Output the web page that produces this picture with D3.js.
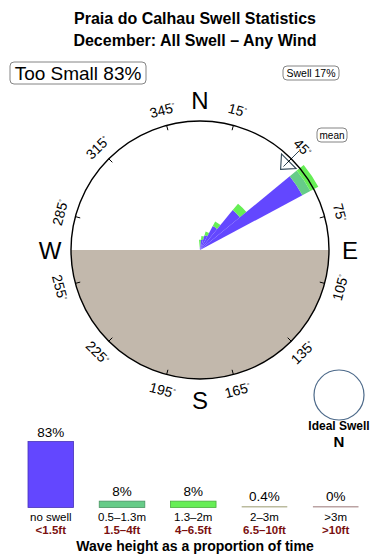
<!DOCTYPE html>
<html>
<head>
<meta charset="utf-8">
<script src="https://cdn.jsdelivr.net/npm/d3@7"></script>
<style>
  body { margin: 0; background: #fff; }
  text { font-family: "Liberation Sans", Arial, sans-serif; }
</style>
</head>
<body>
<script>
// rose: direction bins (deg from N) and stacked heights per class
var directions = [0, 11.25, 22.5, 33.75, 45, 56.25];
var binWidth = 11.25;
var blueVals  = [0.2, 0.8, 1.2, 2.1, 4.0, 9.0];
var tealVals  = [0.0, 0.0, 0.0, 0.0, 0.0, 0.7];
var greenVals = [0.6, 0.3, 0.3, 0.4, 0.65, 0.7];
var roseColors = ["#6347ff", "#66cc88", "#66ee55"];

var tickAngles = [15, 45, 75, 105, 135, 165, 195, 225, 255, 285, 315, 345];
var compass = [["N", 0], ["E", 90], ["S", 180], ["W", 270]];
var meanDir = 45;

// bottom bars
var barLabels = ["no swell", "0.5\u20131.3m", "1.3\u20132m", "2\u20133m", ">3m"];
var barFeet   = ["<1.5ft", "1.5\u20134ft", "4\u20136.5ft", "6.5\u201310ft", ">10ft"];
var barValues = [83, 8, 8, 0.4, 0];
var barText   = ["83%", "8%", "8%", "0.4%", "0%"];
var barColors = ["#6347ff", "#66cc88", "#66ee55", "#bbbb9e", "#bba3a3"];

var width = 390, height = 560;
var cx = 200, cy = 250, R = 129;

var svg = d3.select("body").append("svg")
    .attr("width", width)
    .attr("height", height);

// titles
svg.append("text").attr("x", 195).attr("y", 24).attr("text-anchor", "middle")
    .attr("font-size", 16).attr("font-weight", "bold")
    .text("Praia do Calhau Swell Statistics");
svg.append("text").attr("x", 195).attr("y", 46).attr("text-anchor", "middle")
    .attr("font-size", 16).attr("font-weight", "bold")
    .text("December: All Swell \u2013 Any Wind");

function labelBox(x0, y0, w, h, size, txt) {
    svg.append("rect").attr("x", x0).attr("y", y0).attr("width", w).attr("height", h)
        .attr("rx", 4).attr("fill", "#fff").attr("stroke", "#666").attr("stroke-width", 0.8);
    svg.append("text").attr("x", x0 + w / 2).attr("y", y0 + h / 2)
        .attr("dy", "0.36em").attr("text-anchor", "middle")
        .attr("font-size", size).text(txt);
}
labelBox(10, 62, 136, 22, 19, "Too Small 83%");
labelBox(283, 66, 56, 14, 10.5, "Swell 17%");
labelBox(317, 128, 30, 14, 10, "mean");

var rose = svg.append("g").attr("transform", "translate(" + cx + "," + cy + ")");
var rad = Math.PI / 180;
var rScale = d3.scaleLinear().domain([0, 10]).range([0, R]);

rose.append("circle").attr("r", R).attr("fill", "#fff");
rose.append("path")
    .attr("d", d3.arc()({ innerRadius: 0, outerRadius: R, startAngle: 90 * rad, endAngle: 270 * rad }))
    .attr("fill", "#c2b8ac");

// mean arrow (drawn under the wedges)
var mx = function(r, a) { return r * Math.sin((meanDir + a) * rad); };
var my = function(r, a) { return -r * Math.cos((meanDir + a) * rad); };
var arrowPts = [[mx(114, 0), my(114, 0)], [mx(126, -4.7), my(126, -4.7)], [mx(126, 4.7), my(126, 4.7)]];
rose.append("path")
    .attr("d", "M" + arrowPts.join("L") + "Z")
    .attr("fill", "#fff").attr("stroke", "#2f4656").attr("stroke-width", 1.1);
rose.append("line")
    .attr("x1", mx(118, 0)).attr("y1", my(118, 0))
    .attr("x2", mx(140, 0)).attr("y2", my(140, 0))
    .attr("stroke", "#2f4656").attr("stroke-width", 1);

// stacked wedges
var stack = directions.map(function(d, i) {
    return [blueVals[i], tealVals[i], greenVals[i]];
});
var arc = d3.arc();
directions.forEach(function(dir, i) {
    var base = 0;
    stack[i].forEach(function(v, k) {
        if (v <= 0) return;
        rose.append("path")
            .attr("d", arc({
                innerRadius: rScale(base),
                outerRadius: rScale(base + v),
                startAngle: (dir - binWidth / 2) * rad,
                endAngle: (dir + binWidth / 2) * rad
            }))
            .attr("fill", roseColors[k]);
        base += v;
    });
});

rose.append("circle").attr("r", R).attr("fill", "none")
    .attr("stroke", "#000").attr("stroke-width", 1.4);

// ticks & degree labels
tickAngles.forEach(function(a) {
    var s = Math.sin(a * rad), c = Math.cos(a * rad);
    rose.append("line")
        .attr("x1", (R - 5) * s).attr("y1", -(R - 5) * c)
        .attr("x2", R * s).attr("y2", -R * c)
        .attr("stroke", "#000").attr("stroke-width", 1);
    var rot = a;
    if (rot > 90 && rot < 270) rot -= 180;
    if (rot >= 270) rot -= 360;
    var t = rose.append("text")
        .attr("transform", "translate(" + (145 * s) + "," + (-145 * c) + ") rotate(" + rot + ")")
        .attr("text-anchor", "middle").attr("dy", "0.36em")
        .attr("font-size", 14);
    t.append("tspan").text(a);
    t.append("tspan").attr("font-size", 7).attr("dy", "-0.6em").text("\u00b0");
});

compass.forEach(function(d) {
    var s = Math.sin(d[1] * rad), c = Math.cos(d[1] * rad);
    rose.append("text")
        .attr("x", 150 * s).attr("y", -150 * c)
        .attr("dy", "0.36em").attr("text-anchor", "middle")
        .attr("font-size", 24).text(d[0]);
});

// ideal swell
svg.append("circle").attr("cx", 339).attr("cy", 395).attr("r", 25)
    .attr("fill", "#fff").attr("stroke", "#4d6a8a").attr("stroke-width", 1.2);
svg.append("text").attr("x", 339).attr("y", 429.5).attr("text-anchor", "middle")
    .attr("font-size", 12).attr("font-weight", "bold").text("Ideal Swell");
svg.append("text").attr("x", 339).attr("y", 447).attr("text-anchor", "middle")
    .attr("font-size", 15).attr("font-weight", "bold").text("N");

// bars
var xBar = d3.scaleBand().domain(barLabels).range([28, 358.5]).paddingInner(0.36).paddingOuter(0);
var yBar = d3.scaleLinear().domain([0, 83]).range([507.5, 441.5]);

var bars = svg.append("g");
barLabels.forEach(function(lab, i) {
    var x0 = xBar(lab), bw = xBar.bandwidth();
    var y0 = Math.min(yBar(barValues[i]), 506);
    bars.append("rect")
        .attr("x", x0).attr("y", y0)
        .attr("width", bw).attr("height", 507.5 - y0)
        .attr("fill", barColors[i])
        .attr("stroke", d3.color(barColors[i]).darker(0.9))
        .attr("stroke-width", i < 3 ? 0.8 : 0);
    bars.append("text").attr("x", x0 + bw / 2).attr("y", y0 - 5)
        .attr("text-anchor", "middle").attr("font-size", 13.5).text(barText[i]);
    bars.append("text").attr("x", x0 + bw / 2).attr("y", 520.5)
        .attr("text-anchor", "middle").attr("font-size", 11.5).text(lab);
    bars.append("text").attr("x", x0 + bw / 2).attr("y", 533.5)
        .attr("text-anchor", "middle").attr("font-size", 11.5).attr("font-weight", "bold")
        .attr("fill", "#7a1010").text(barFeet[i]);
});

svg.append("text").attr("x", 195).attr("y", 550.5).attr("text-anchor", "middle")
    .attr("font-size", 14).attr("font-weight", "bold")
    .text("Wave height as a proportion of time");
</script>
</body>
</html>
